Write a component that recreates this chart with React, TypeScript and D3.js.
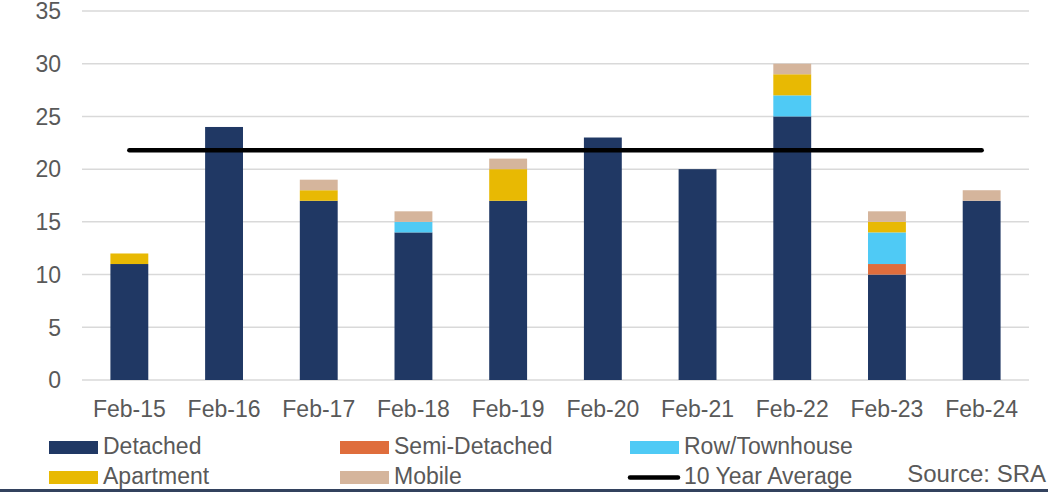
import React from "react";
import * as d3 from "d3";

const categories = ["Feb-15", "Feb-16", "Feb-17", "Feb-18", "Feb-19", "Feb-20", "Feb-21", "Feb-22", "Feb-23", "Feb-24"];
const detached = [11, 24, 17, 14, 17, 23, 20, 25, 10, 17];
const semiDetached = [0, 0, 0, 0, 0, 0, 0, 0, 1, 0];
const rowTownhouse = [0, 0, 0, 1, 0, 0, 0, 2, 3, 0];
const apartment = [1, 0, 1, 0, 3, 0, 0, 2, 1, 0];
const mobile = [0, 0, 1, 1, 1, 0, 0, 1, 1, 1];
const tenYearAverage = 21.8;
const yTicks = [0, 5, 10, 15, 20, 25, 30, 35];

const seriesNames = ["Detached", "Semi-Detached", "Row/Townhouse", "Apartment", "Mobile"];
const seriesColors = ["#203864", "#DF6D3C", "#4FCAF5", "#E8B903", "#D5B59C"];

const W = 1048;
const H = 492;
const FONT = "'Liberation Sans', Arial, sans-serif";

export default function App() {
  const x = d3.scaleBand<string>().domain(categories).range([82, 1029]).paddingInner(0.6).paddingOuter(0.3);
  const y = d3.scaleLinear().domain([0, 35]).range([380, 11]);

  const rows = categories.map((c, i) => ({
    cat: c,
    "Detached": detached[i],
    "Semi-Detached": semiDetached[i],
    "Row/Townhouse": rowTownhouse[i],
    "Apartment": apartment[i],
    "Mobile": mobile[i],
  }));
  const stacked = d3.stack<any>().keys(seriesNames)(rows);

  const first = x(categories[0])! + x.bandwidth() / 2;
  const last = x(categories[categories.length - 1])! + x.bandwidth() / 2;

  const legendItems = [
    { name: "Detached", color: seriesColors[0], sx: 49, row: 0, line: false },
    { name: "Semi-Detached", color: seriesColors[1], sx: 340, row: 0, line: false },
    { name: "Row/Townhouse", color: seriesColors[2], sx: 630, row: 0, line: false },
    { name: "Apartment", color: seriesColors[3], sx: 49, row: 1, line: false },
    { name: "Mobile", color: seriesColors[4], sx: 340, row: 1, line: false },
    { name: "10 Year Average", color: "#000000", sx: 630, row: 1, line: true },
  ];

  return (
    <div style={{ position: "fixed", left: 0, top: 0 }}>
      <svg width={W} height={H} style={{ display: "block", background: "#ffffff" }} fontFamily={FONT}>
        {yTicks.map((t) => (
          <g key={t}>
            <line x1={82} x2={1029} y1={y(t)} y2={y(t)} stroke="#D9D9D9" strokeWidth={1.5} />
            <text x={61} y={y(t)} dy="0.36em" textAnchor="end" fontSize={23} fill="#595959">
              {t}
            </text>
          </g>
        ))}
        {stacked.map((s, si) => (
          <g key={s.key} fill={seriesColors[si]}>
            {s.map((d, i) =>
              d[1] - d[0] > 0 ? (
                <rect
                  key={i}
                  x={x(categories[i])!}
                  width={x.bandwidth()}
                  y={y(d[1])}
                  height={y(d[0]) - y(d[1])}
                />
              ) : null
            )}
          </g>
        ))}
        <line x1={first} x2={last} y1={y(tenYearAverage)} y2={y(tenYearAverage)} stroke="#000" strokeWidth={4.5} strokeLinecap="round" />
        {categories.map((c) => (
          <text key={c} x={x(c)! + x.bandwidth() / 2} y={417} textAnchor="middle" fontSize={23} fill="#595959">
            {c}
          </text>
        ))}
        {legendItems.map((it) => {
          const top = it.row === 0 ? 441 : 471;
          return (
            <g key={it.name}>
              {it.line ? (
                <line x1={it.sx} x2={it.sx + 48} y1={top + 6.5} y2={top + 6.5} stroke="#000" strokeWidth={4.5} strokeLinecap="round" />
              ) : (
                <rect x={it.sx} y={top} width={49} height={13} fill={it.color} />
              )}
              <text x={it.sx + 54} y={top + 13} fontSize={23} fill="#595959">
                {it.name}
              </text>
            </g>
          );
        })}
        <text x={1046} y={482} textAnchor="end" fontSize={24} fill="#595959">
          Source: SRA
        </text>
        <rect x={0} y={489} width={W} height={3} fill="#33425E" />
      </svg>
    </div>
  );
}
